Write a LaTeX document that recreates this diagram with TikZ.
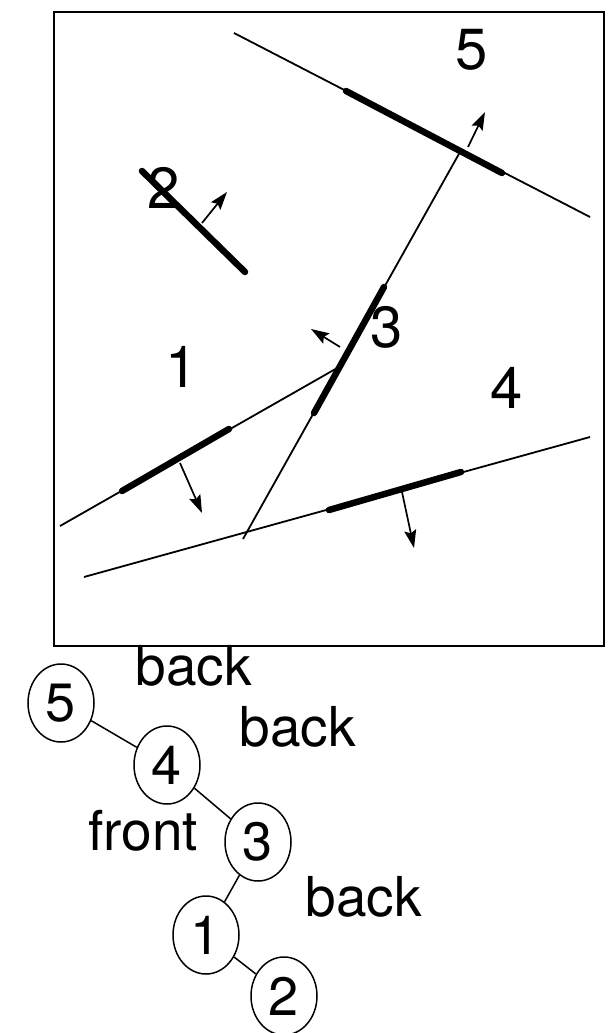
\documentclass[tikz,border=0pt]{standalone}
\usepackage{fontspec}
\setmainfont{TeX Gyre Heros}
\usetikzlibrary{arrows.meta, shapes.geometric}

\begin{document}
\begin{tikzpicture}[x=1pt, y=-1pt,
  wall/.style={line width=1.8pt},
  wallpart/.style={line width=6.5pt, line cap=round},
  normal/.style={line width=1.7pt, -{Stealth[length=18pt, width=12pt, inset=3pt]}},
  region/.style={font=\fontsize{58}{62}\selectfont, inner sep=0pt},
  face/.style={ellipse, draw, line width=1.5pt, minimum width=66pt, minimum height=78pt, inner sep=0pt, font=\fontsize{54}{58}\selectfont},
  side/.style={font=\fontsize{55}{60}\selectfont, inner sep=0pt}]
  \useasboundingbox (0,0) rectangle (613,1033);

  % Frame
  \draw[line width=2pt] (54,12) rectangle (604,646);

  % Region labels
  \node[region] (r5) at (472,50) {5};
  \node[region] (r2) at (164,188) {2};
  \node[region] (r3) at (387,327) {3};
  \node[region] (r1) at (182,367) {1};
  \node[region] (r4) at (507,388) {4};

  % Walls
  \coordinate (w5a) at (234,33);  \coordinate (w5b) at (590,217);
  \coordinate (w3a) at (243,539); \coordinate (w3b) at (460,152);
  \coordinate (w1a) at (60,526);  \coordinate (w1b) at (339,367);
  \coordinate (w4a) at (84,577);  \coordinate (w4b) at (590,437);
  \draw[wall] (w5a) -- (w5b);
  \draw[wall] (w3a) -- (w3b);
  \draw[wall] (w1a) -- (w1b);
  \draw[wall] (w4a) -- (w4b);

  % Wall pieces
  \draw[wallpart] (346,91) -- (502,173);
  \draw[wallpart] (314,413) -- (384,287);
  \draw[wallpart] (122,491) -- (229,429);
  \draw[wallpart] (329,510) -- (461,472);
  \draw[wallpart] (142,171) -- (245,272);

  % Normals
  \draw[normal] (468,147) -- (485,112);
  \draw[normal] (202,223) -- (227,192);
  \draw[normal] (340,347) -- (311,329);
  \draw[normal] (180,463) -- (202,513);
  \draw[normal] (402,492) -- (414,548);

  % Tree
  \node[face] (t5) at (61,703) {5};
  \node[face] (t4) at (167,765) {4};
  \node[face] (t3) at (258,842) {3};
  \node[face] (t1) at (206,935) {1};
  \node[face] (t2) at (284,996) {2};
  \draw[line width=1.5pt] (t5) -- (t4);
  \draw[line width=1.5pt] (t4) -- (t3);
  \draw[line width=1.5pt] (t3) -- (t1);
  \draw[line width=1.5pt] (t1) -- (t2);

  \node[side] (s54) at (194,666) {back};
  \node[side] (s43) at (298,727) {back};
  \node[side] (s31) at (143,831) {front};
  \node[side] (s12) at (364,897) {back};
\end{tikzpicture}
\end{document}
